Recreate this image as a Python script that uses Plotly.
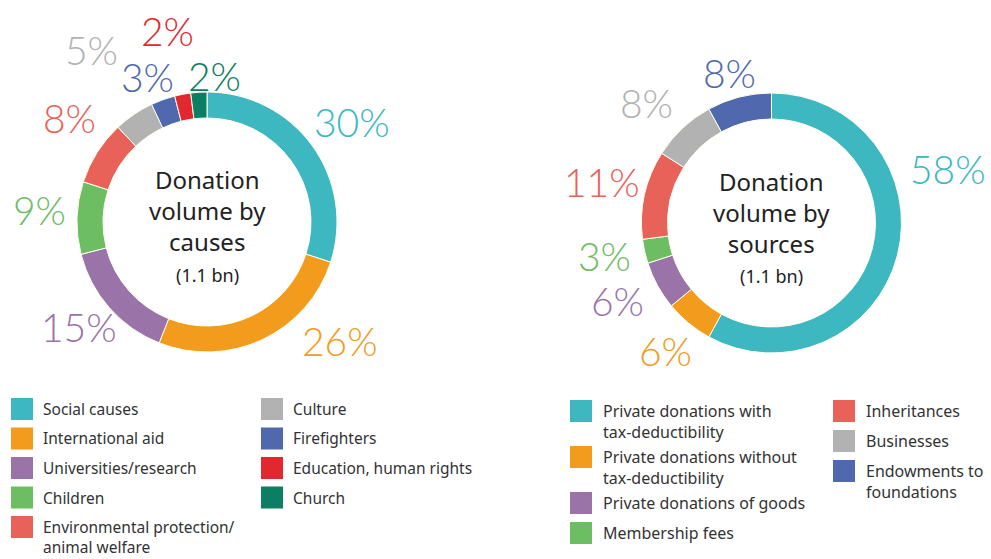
import math
import plotly.graph_objects as go

W, H = 991, 559

# ---------------- data ----------------
cause_labels = ["Social causes", "International aid", "Universities/research", "Children",
                "Environmental protection/<br>animal welfare", "Culture", "Firefighters",
                "Education, human rights", "Church"]
cause_values = [30, 26, 15, 9, 8, 5, 3, 2, 2]

source_labels = ["Private donations with<br>tax-deductibility",
                 "Private donations without<br>tax-deductibility",
                 "Private donations of goods", "Membership fees",
                 "Inheritances", "Businesses", "Endowments to<br>foundations"]
source_values = [58, 6, 6, 3, 11, 8, 8]

cause_title = "Donation<br>volume by<br>causes"
source_title = "Donation<br>volume by<br>sources"
total_text = "(1.1 bn)"

# ---------------- styles ----------------
TEAL, ORANGE, PURPLE, GREEN = "#3DB8C1", "#F39B1C", "#9A74A9", "#6DBD62"
SALMON, GRAY, BLUE, RED, DGREEN = "#E9625A", "#B2B2B2", "#5069AE", "#E2272E", "#0B7E64"
cause_colors = [TEAL, ORANGE, PURPLE, GREEN, SALMON, GRAY, BLUE, RED, DGREEN]
source_colors = [TEAL, ORANGE, PURPLE, GREEN, SALMON, GRAY, BLUE]

# label placement tweaks (radius px, angle offset deg) relative to slice middle
cause_lab_r = [176, 179, 166, 168, 172, 206, 156, 194, 145]
cause_lab_dt = [1.7, -22.7, 1.8, 1.9, 4.3, 0.1, -2.5, -0.8, 6.4]
source_lab_r = [184, 167, 173, 170, 174, 173, 155]
source_lab_dt = [-31.1, -0.1, 1.6, 1.1, 0.7, -3.3, -1.5]

PCT_FONT = "Lato"
TXT_FONT = "Noto Sans, sans-serif"
R = 130
HOLE = 0.8


def px(x):
    return x / W


def py(y):
    return 1 - y / H


fig = go.Figure()
annotations = []
shapes = []


def add_donut(values, colors, cx, cy, lab_r, lab_dt, title):
    fig.add_trace(go.Pie(
        values=values, sort=False, direction="clockwise", rotation=0,
        hole=HOLE, textinfo="none", hoverinfo="percent",
        marker=dict(colors=colors, line=dict(color="#FFFFF0", width=1)),
        domain=dict(x=[px(cx - R), px(cx + R)], y=[py(cy + R), py(cy - R)]),
        showlegend=False,
    ))
    total = sum(values)
    cum = 0
    for v, c, r, dt in zip(values, colors, lab_r, lab_dt):
        mid = (cum + v / 2) / total * 360
        cum += v
        a = math.radians(mid + dt)
        x = cx + r * math.sin(a)
        y = cy - r * math.cos(a)
        annotations.append(dict(
            x=px(x), y=py(y - 1), xref="paper", yref="paper", showarrow=False,
            text=f"{round(v / total * 100)}%", xanchor="center", yanchor="middle",
            font=dict(family=PCT_FONT, size=39, color=c, weight=300),
        ))
    annotations.append(dict(
        x=px(cx), y=py(cy - 11), xref="paper", yref="paper", showarrow=False,
        text=title, xanchor="center", yanchor="middle", borderpad=0,
        font=dict(family=TXT_FONT, size=24, color="#222222"),
    ))
    annotations.append(dict(
        x=px(cx), y=py(cy + 53), xref="paper", yref="paper", showarrow=False,
        text=total_text, xanchor="center", yanchor="middle", borderpad=0,
        font=dict(family=TXT_FONT, size=18, color="#222222"),
    ))


def add_legend(labels, colors, col_x, text_dx, split, top_y, step, fs):
    for ci, (start, end) in enumerate([(0, split), (split, len(labels))]):
        y = top_y
        for lab, col in zip(labels[start:end], colors[start:end]):
            x0 = col_x[ci]
            shapes.append(dict(type="rect", xref="paper", yref="paper",
                               x0=px(x0), x1=px(x0 + 22), y0=py(y - 11), y1=py(y + 11),
                               fillcolor=col, line=dict(width=0)))
            annotations.append(dict(
                x=px(x0 + text_dx), y=py(y - 12), xref="paper", yref="paper",
                showarrow=False, text=lab, xanchor="left", yanchor="top",
                align="left", borderpad=0,
                font=dict(family=TXT_FONT, size=fs, color="#333333"),
            ))
            lines = lab.count("<br>") + 1
            y += step + 16 * (lines - 1)


add_donut(cause_values, cause_colors, 207, 222, cause_lab_r, cause_lab_dt, cause_title)
add_donut(source_values, source_colors, 771.5, 223, source_lab_r, source_lab_dt, source_title)
add_legend(cause_labels, cause_colors, [11, 261], 31, 5, 409, 29.5, 15.5)
add_legend(source_labels, source_colors, [570, 833], 32, 4, 411, 30, 16)

fig.update_layout(
    width=W, height=H, margin=dict(l=0, r=0, t=0, b=0),
    paper_bgcolor="white", plot_bgcolor="white",
    annotations=annotations, shapes=shapes, showlegend=False,
)

fig.write_html("out.html")
